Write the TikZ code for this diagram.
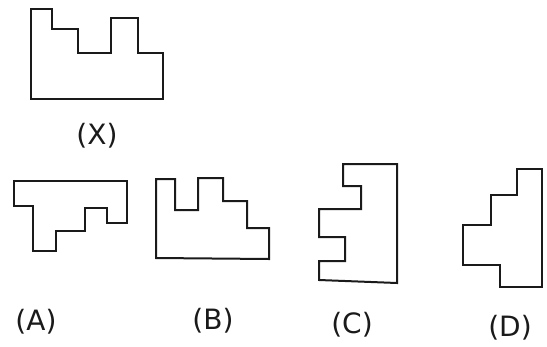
\documentclass[tikz,border=0pt]{standalone}
\usepackage{fontspec}
\setmainfont{DejaVu Sans}
\usepackage{xcolor}
\usetikzlibrary{positioning}
\definecolor{ink}{HTML}{1A1A1A}
\tikzset{
  figline/.style={draw=ink, line width=2pt, line join=miter},
  tag/.style={font=\fontsize{28}{32}\selectfont, text=ink, inner sep=0pt}
}

\begin{document}
\begin{tikzpicture}[x=1pt, y=-1pt]
  \useasboundingbox (0,0) rectangle (547,346);

  % question figure
  \draw[figline] (31,9) -- (52,9) -- (52,29) -- (78,29) -- (78,53) -- (111,53)
    -- (111,18) -- (138,18) -- (138,53) -- (163,53) -- (163,99) -- (31,99) -- cycle;
  \node[tag] (lblX) at (97,136) {(X)};

  % answer figures
  \draw[figline] (14,181) -- (127,181) -- (127,223) -- (107,223) -- (107,208)
    -- (85,208) -- (85,231) -- (56,231) -- (56,251) -- (33,251) -- (33,206)
    -- (14,206) -- cycle;
  \draw[figline] (156,179) -- (175,179) -- (175,210) -- (198,210) -- (198,178)
    -- (223,178) -- (223,201) -- (247,201) -- (247,228) -- (269,228)
    -- (269,259) -- (156,258) -- cycle;
  \draw[figline] (343,164) -- (397,164) -- (397,283) -- (319,280) -- (319,261)
    -- (345,261) -- (345,237) -- (319,237) -- (319,209) -- (361,209)
    -- (361,186) -- (343,186) -- cycle;
  \draw[figline] (517,169) -- (542,169) -- (542,287) -- (500,287) -- (500,265)
    -- (463,265) -- (463,225) -- (491,225) -- (491,195) -- (517,195) -- cycle;

  \node[tag] (lblA) at (36,322) {(A)};
  \node[tag] (lblB) at (213,321) {(B)};
  \node[tag] (lblC) at (352,325) {(C)};
  \node[tag] (lblD) at (510,328) {(D)};
\end{tikzpicture}
\end{document}
